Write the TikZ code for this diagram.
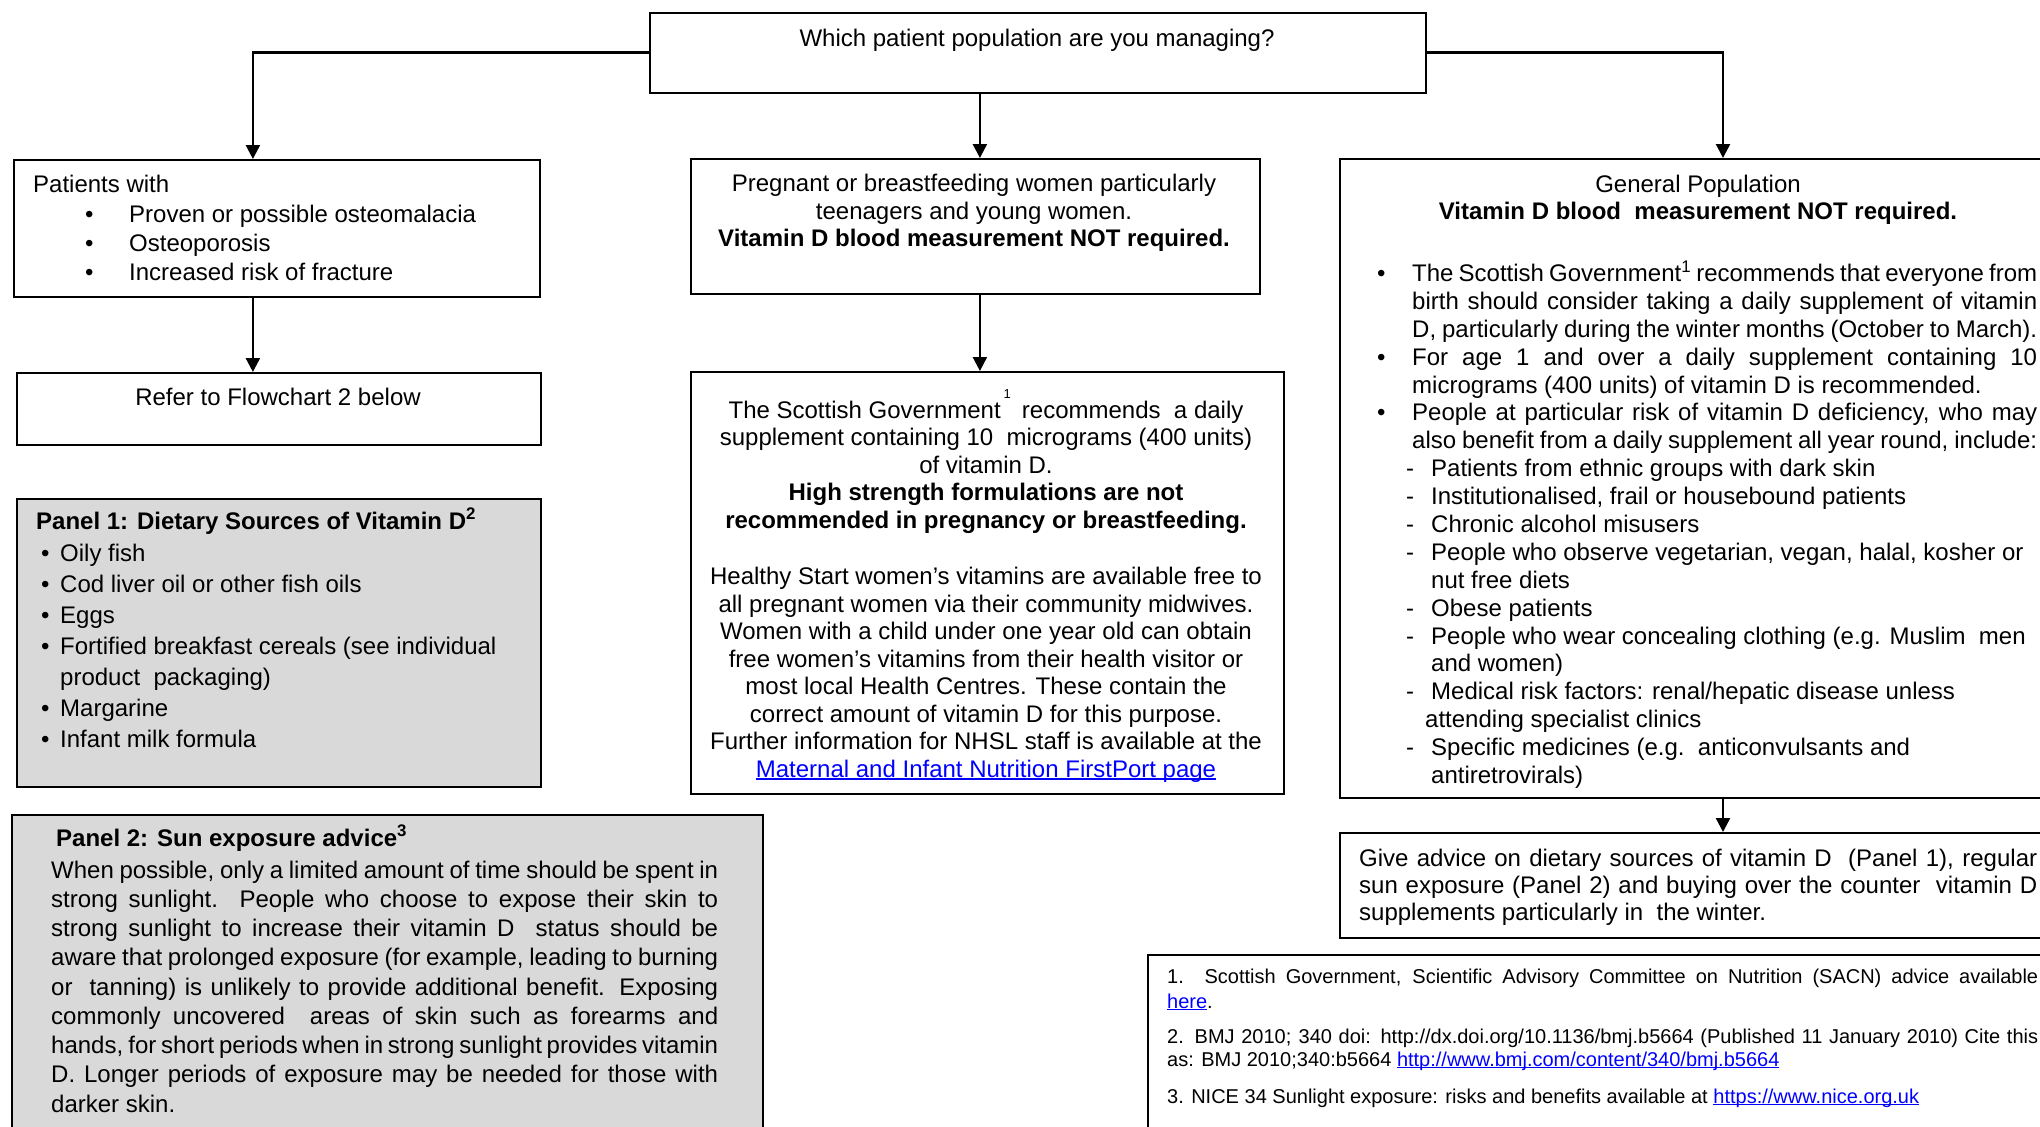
\documentclass[tikz,border=0pt]{standalone}
\usepackage{fontspec}
\setmainfont{Liberation Sans}
\usetikzlibrary{arrows.meta,calc}
\definecolor{panelgray}{HTML}{D9D9D9}
\definecolor{linkblue}{HTML}{0000FF}
\newcommand\lk[1]{\leavevmode{\color{linkblue}\setbox0\hbox{#1}\rlap{\rule[-0.11em]{\wd0}{0.055em}}\box0}}
\newcommand\jl[2]{\makebox[#1][s]{#2}}
\newcommand\fs[1]{\fontsize{24}{#1}\selectfont}
\newcommand\bul[1]{\leavevmode\llap{\textbullet\hspace{#1}}}
\newcommand\dsh{\leavevmode\llap{-\hspace{17pt}}}
\begin{document}
\begin{tikzpicture}[x=1pt,y=-1pt,
  box/.style={draw=black, line width=1.8pt, rectangle, anchor=north west, inner sep=0pt},
  gbox/.style={box, fill=panelgray},
  conn/.style={line width=2.3pt, -{Triangle[width=14pt,length=14pt]}},
  txt/.style={inner sep=0pt, font=\fontsize{24}{27.6}\selectfont},
  foottxt/.style={inner sep=0pt, font=\fontsize{20}{23}\selectfont, anchor=base west},
]
\useasboundingbox (0,0) rectangle (2040,1127);
\fill[white] (0,0) rectangle (2040,1127);

% boxes
\node[box, minimum width=776pt, minimum height=80pt] (top) at (649,11.7) {};
\node[box, minimum width=526pt, minimum height=137pt] (boxA) at (13,159) {};
\node[box, minimum width=569pt, minimum height=135pt] (boxB) at (690,158) {};
\node[box, minimum width=721pt, minimum height=639pt] (boxC) at (1339,158) {};
\node[box, minimum width=524pt, minimum height=72pt] (boxD) at (16,372) {};
\node[gbox, minimum width=524pt, minimum height=288pt] (pan1) at (16,498) {};
\node[box, minimum width=593pt, minimum height=422pt] (boxE) at (690,371) {};
\node[box, minimum width=721pt, minimum height=105pt] (boxF) at (1339,832) {};
\node[gbox, minimum width=751pt, minimum height=330pt] (pan2) at (11,814) {};
\node[box, minimum width=913pt, minimum height=190pt] (foot) at (1147,954) {};

% connectors
\draw[conn] (top.west) -| ([xshift=-24pt]boxA.north);
\draw[conn] ([xshift=-58pt]top.south) -- ([xshift=-58pt]top.south |- boxB.north);
\draw[conn] (top.east) -| ([xshift=384pt]boxC.north west);
\draw[conn] ([xshift=-24pt]boxA.south) -- ([xshift=-24pt]boxA.south |- boxD.north);
\draw[conn] ([xshift=4.5pt]boxB.south) -- ([xshift=4.5pt]boxB.south |- boxE.north);
\draw[conn] ([xshift=384pt]boxC.south west) -- ([xshift=384pt]boxC.south west |- boxF.north);

% top question
\node[txt, anchor=base] (q) at (1037,46.5) {Which patient population are you managing?};

% box A
\node[txt, anchor=base west] (aT) at (33,192.5) {Patients with};
\node[txt, anchor=base west] (aL) at (129,222) {\parbox[t]{400pt}{\fs{29}%
\bul{35.6pt}Proven or possible osteomalacia\\
\bul{35.6pt}Osteoporosis\\
\bul{35.6pt}Increased risk of fracture}};

% box B
\node[txt, anchor=base] (bT) at (974,191.5) {\parbox[t]{560pt}{\centering\fs{27.5}%
Pregnant or breastfeeding women particularly\\
teenagers and young women.\\
\textbf{Vitamin D blood measurement NOT required.}}};

% box D
\node[txt, anchor=base] (dT) at (278,405) {Refer to Flowchart 2 below};

% panel 1
\node[txt, anchor=base west] (p1T) at (36,529) {\textbf{Panel 1: Dietary Sources of Vitamin D\textsuperscript{2}}};
\node[txt, anchor=base west] (p1L) at (60,561) {\parbox[t]{470pt}{\fs{31}%
\bul{10.6pt}Oily fish\\
\bul{10.6pt}Cod liver oil or other fish oils\\
\bul{10.6pt}Eggs\\
\bul{10.6pt}Fortified breakfast cereals (see individual\\
product\ \ packaging)\\
\bul{10.6pt}Margarine\\
\bul{10.6pt}Infant milk formula}};

% box E
\node[txt, anchor=base] (e1) at (986,418) {\parbox[t]{590pt}{\centering\fs{27.5}%
The Scottish Government\hspace{3pt}\raisebox{20pt}{\fontsize{13}{13}\selectfont 1}\hspace{11pt}recommends\ \ a daily\\
supplement containing 10\ \ micrograms (400 units)\\
of vitamin D.\\
\textbf{High strength formulations are not}\\
\textbf{recommended in pregnancy or breastfeeding.}}};
\node[txt, anchor=base] (e2) at (986,584.5) {\parbox[t]{590pt}{\centering\fs{27.5}%
Healthy Start women’s vitamins are available free to\\
all pregnant women via their community midwives.\\
Women with a child under one year old can obtain\\
free women’s vitamins from their health visitor or\\
most local Health Centres. These contain the\\
correct amount of vitamin D for this purpose.\\
Further information for NHSL staff is available at the\\
\lk{Maternal and Infant Nutrition FirstPort page}}};

% box C
\node[txt, anchor=base] (cT) at (1698,192) {\parbox[t]{690pt}{\centering\fs{27}%
General Population\\
\textbf{Vitamin D blood\ \ measurement NOT required.}}};
\node[txt, anchor=base west] (cL) at (1412,281.5) {\parbox[t]{625pt}{\fs{27.89}%
\jl{625pt}{\bul{26.6pt}The Scottish Government\textsuperscript{1} recommends that everyone from}\\
\jl{625pt}{birth should consider taking a daily supplement of vitamin}\\
\jl{625pt}{D, particularly during the winter months (October to March).}\\
\jl{625pt}{\bul{26.6pt}For age 1 and over a daily supplement containing 10}\\
micrograms (400 units) of vitamin D is recommended.\\
\jl{625pt}{\bul{26.6pt}People at particular risk of vitamin D deficiency, who may}\\
\jl{625pt}{also benefit from a daily supplement all year round, include:}\\
\hspace*{19pt}\dsh Patients from ethnic groups with dark skin\\
\hspace*{19pt}\dsh Institutionalised, frail or housebound patients\\
\hspace*{19pt}\dsh Chronic alcohol misusers\\
\hspace*{19pt}\dsh People who observe vegetarian, vegan, halal, kosher or\\
\hspace*{19pt}nut free diets\\
\hspace*{19pt}\dsh Obese patients\\
\hspace*{19pt}\dsh People who wear concealing clothing (e.g. Muslim\ \ men\\
\hspace*{19pt}and women)\\
\hspace*{19pt}\dsh Medical\ risk\ factors: renal/hepatic\ disease\ unless\\
\hspace*{13pt}attending\ specialist\ clinics\\
\hspace*{19pt}\dsh Specific medicines (e.g.\ \ anticonvulsants and\\
\hspace*{19pt}antiretrovirals)}};

% box F
\node[txt, anchor=base west] (fL) at (1359,866) {\parbox[t]{678pt}{\fs{27}%
\jl{678pt}{Give advice on dietary sources of vitamin D\ \ (Panel 1), regular}\\
\jl{678pt}{sun exposure (Panel 2) and buying over the counter\ \ vitamin D}\\
supplements particularly in\ \ the winter.}};

% panel 2
\node[txt, anchor=base west] (p2T) at (56,846) {\textbf{Panel 2: Sun exposure advice\textsuperscript{3}}};
\node[txt, anchor=base west] (p2L) at (51,878) {\parbox[t]{667pt}{\fs{29.25}%
\jl{667pt}{When possible, only a limited amount of time should be spent in}\\
\jl{667pt}{strong sunlight.\ \ People who choose to expose their skin to}\\
\jl{667pt}{strong sunlight to increase their vitamin D\ \ status should be}\\
\jl{667pt}{aware that prolonged exposure (for example, leading to burning}\\
\jl{667pt}{or\ \ tanning) is unlikely to provide additional benefit. Exposing}\\
\jl{667pt}{commonly uncovered\ \ areas of skin such as forearms and}\\
\jl{667pt}{hands, for short periods when in strong sunlight provides vitamin}\\
\jl{667pt}{D. Longer periods of exposure may be needed for those with}\\
darker skin.}};

% footnotes
\node[foottxt] (g1) at (1167,983) {\parbox[t]{871pt}{\fontsize{20}{25}\selectfont
\jl{871pt}{1. Scottish Government, Scientific Advisory Committee on Nutrition (SACN) advice available}\\
\lk{here}.}};
\node[foottxt] (g2) at (1167,1043) {\parbox[t]{871pt}{\fontsize{20}{23}\selectfont
\jl{871pt}{2. BMJ 2010; 340 doi: http://dx.doi.org/10.1136/bmj.b5664 (Published 11 January 2010) Cite this}\\
as: BMJ 2010;340:b5664 \lk{http://www.bmj.com/content/340/bmj.b5664}}};
\node[foottxt] (g3) at (1167,1103) {3. NICE 34 Sunlight exposure: risks and benefits available at \lk{https://www.nice.org.uk}};
\end{tikzpicture}
\end{document}
